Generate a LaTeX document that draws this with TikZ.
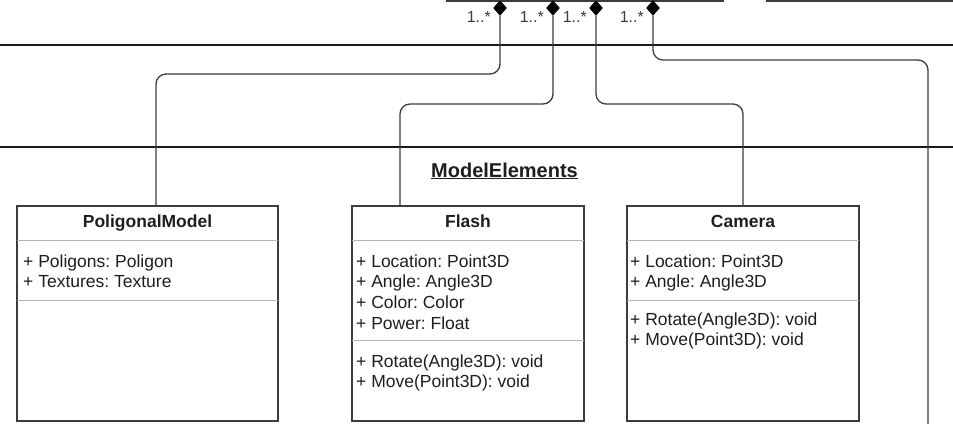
\documentclass[tikz,border=0pt]{standalone}
\usepackage{fontspec}
\setmainfont{Liberation Sans}
\frenchspacing
\usetikzlibrary{shapes.geometric}
\definecolor{umlline}{HTML}{3C3C3C}
\definecolor{umlsep}{HTML}{B4B4B4}
\definecolor{umltext}{HTML}{1E1E1E}
\tikzset{
    classbox/.style={draw=umlline, line width=1.3pt, inner sep=0pt, outer sep=0pt, anchor=north west},
    classname/.style={font=\fontsize{17.5}{21}\selectfont\bfseries, text=umltext, anchor=base, inner sep=0pt},
    member/.style={font=\fontsize{17.5}{21}\selectfont, text=umltext, anchor=base west, inner sep=0pt},
    sep/.style={draw=umlsep, line width=1pt},
    lane/.style={draw=black!90, line width=2.8pt},
    conn/.style={draw=umlline, line width=1.3pt, rounded corners=10pt},
    agg/.style={diamond, draw=black, fill=black, line width=0.4pt, inner sep=0pt, minimum width=13pt, minimum height=15pt},
    mult/.style={font=\fontsize{16}{19}\selectfont, text=umlline, anchor=base east, inner sep=0pt},
}
\begin{document}
\begin{tikzpicture}[x=1pt, y=-1pt]
    \useasboundingbox (0,0) rectangle (953,423);
    \clip (0,0) rectangle (953,423);

    % swimlane borders
    \draw[lane] (-5,45) -- (960,45);
    \draw[lane] (-5,147) -- (960,147);
    \node[font=\fontsize{20}{24}\selectfont\bfseries, text=umltext, anchor=base] (lanetitle) at (504.5,177) {\underline{ModelElements}};

    % classes above, cut by the top edge
    \node[classbox, anchor=south west, minimum width=276pt, minimum height=60pt] (scene) at (447,1) {};
    \node[classbox, anchor=south west, minimum width=220pt, minimum height=60pt] (render) at (767,1) {};

    % aggregation ends
    \foreach \i/\x in {1/500,2/553,3/596,4/653} {
        \node[agg] (D\i) at (\x,8) {};
        \node[mult] (M\i) at ([xshift=-9pt,yshift=-15pt]D\i.center) {1..*};
    }

    % class boxes
    \node[classbox, minimum width=261pt, minimum height=215pt] (poly) at (17,206) {};
    \node[classbox, minimum width=232pt, minimum height=215pt] (flash) at (352,206) {};
    \node[classbox, minimum width=232pt, minimum height=215pt] (camera) at (627,206) {};
    \coordinate (offpage) at (928,440);

    \node[classname] (polyname) at (147.5,227) {PoligonalModel};
    \node[classname] (flashname) at (468,227) {Flash};
    \node[classname] (cameraname) at (743,227) {Camera};

    \draw[sep] (poly.north west |- 0,240) -- (poly.north east |- 0,240);
    \draw[sep] (poly.north west |- 0,300) -- (poly.north east |- 0,300);
    \draw[sep] (flash.north west |- 0,240) -- (flash.north east |- 0,240);
    \draw[sep] (flash.north west |- 0,340) -- (flash.north east |- 0,340);
    \draw[sep] (camera.north west |- 0,240) -- (camera.north east |- 0,240);
    \draw[sep] (camera.north west |- 0,300) -- (camera.north east |- 0,300);

    % attributes and operations
    \foreach \t [count=\i from 0] in {{+ Poligons: Poligon},{+ Textures: Texture}}
        \node[member] (polyA\i) at (23,{267+20.7*\i}) {\t};
    \foreach \t [count=\i from 0] in {{+ Location: Point3D},{+ Angle: Angle3D},{+ Color: Color},{+ Power: Float}}
        \node[member] (flashA\i) at (356,{267+20.7*\i}) {\t};
    \foreach \t [count=\i from 0] in {{+ Rotate(Angle3D): void},{+ Move(Point3D): void}}
        \node[member] (flashO\i) at (356,{367+20.7*\i}) {\t};
    \foreach \t [count=\i from 0] in {{+ Location: Point3D},{+ Angle: Angle3D}}
        \node[member] (cameraA\i) at (630,{267+20.7*\i}) {\t};
    \foreach \t [count=\i from 0] in {{+ Rotate(Angle3D): void},{+ Move(Point3D): void}}
        \node[member] (cameraO\i) at (630,{325+20.7*\i}) {\t};

    % connectors
    \draw[conn] (D1.south) -- (D1.south |- 0,74) -| ([xshift=8.5pt]poly.north);
    \draw[conn] (D2.south) -- (D2.south |- 0,104) -| ([xshift=-68pt]flash.north);
    \draw[conn] (D3.south) -- (D3.south |- 0,104) -| (camera.north);
    \draw[conn] (D4.south) -- (D4.south |- 0,60) -| (offpage);
\end{tikzpicture}
\end{document}
